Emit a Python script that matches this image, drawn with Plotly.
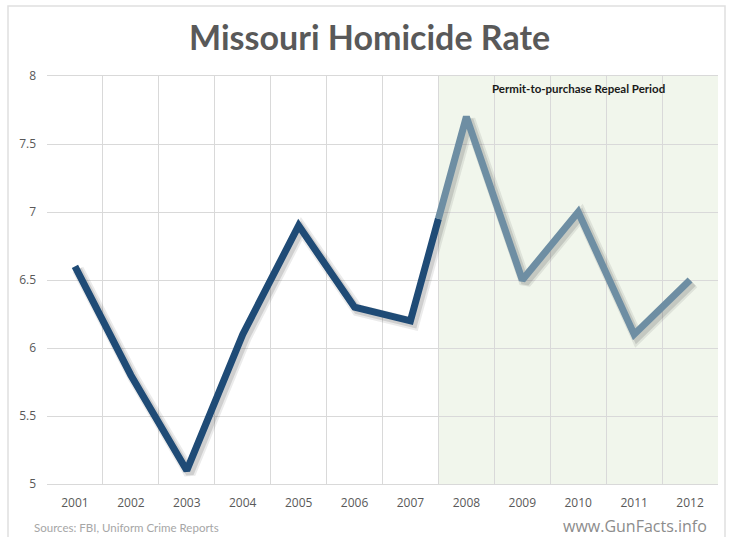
import plotly.graph_objects as go

# Missouri homicide rate per 100,000 residents
years = [2001, 2002, 2003, 2004, 2005, 2006, 2007, 2008, 2009, 2010, 2011, 2012]
rates = [6.6, 5.8, 5.1, 6.1, 6.9, 6.3, 6.2, 7.7, 6.5, 7.0, 6.1, 6.5]
repeal_start_year = 2008
period_label = "Permit-to-purchase Repeal Period"
title_text = "Missouri Homicide Rate"
source_text = "Sources: FBI, Uniform Crime Reports"
site_text = "www.GunFacts.info"

DARK = "#1f4b76"
LIGHT = "#6e8ea3"
GRID = "#d9d9d9"
TICK = "#595959"

W, H = 729, 537
ML, MR, MT, MB = 47, 11, 76, 53
x_range = [years[0] - 0.5, years[-1] + 0.5]
y_range = [5, 8]
px_per_x = (W - ML - MR) / (x_range[1] - x_range[0])
px_per_y = (H - MT - MB) / (y_range[1] - y_range[0])

# split the line where the shaded period begins (halfway between two years)
i_split = years.index(repeal_start_year)
x_mid = (years[i_split - 1] + years[i_split]) / 2
y_mid = (rates[i_split - 1] + rates[i_split]) / 2
before_x = years[:i_split] + [x_mid]
before_y = rates[:i_split] + [y_mid]
after_x = [x_mid] + years[i_split:]
after_y = [y_mid] + rates[i_split:]

fig = go.Figure()

# soft drop shadow: same data on slightly offset hidden axis pairs
shift = 3
fig.add_trace(go.Scatter(x=years, y=rates, mode="lines", xaxis="x2", yaxis="y2",
                         line=dict(color="rgba(60,60,60,0.10)", width=12),
                         hoverinfo="skip", showlegend=False))
fig.add_trace(go.Scatter(x=years, y=rates, mode="lines", xaxis="x2", yaxis="y2",
                         line=dict(color="rgba(60,60,60,0.16)", width=8),
                         hoverinfo="skip", showlegend=False))

fig.add_trace(go.Scatter(x=before_x, y=before_y, mode="lines", xaxis="x3", yaxis="y3",
                         line=dict(color=DARK, width=7), showlegend=False))
fig.add_trace(go.Scatter(x=after_x, y=after_y, mode="lines", xaxis="x3", yaxis="y3",
                         line=dict(color=LIGHT, width=7), showlegend=False))

hidden = dict(visible=False, showgrid=False, zeroline=False, fixedrange=True)

fig.update_layout(
    width=W, height=H,
    margin=dict(l=ML, r=MR, t=MT, b=MB),
    paper_bgcolor="white",
    plot_bgcolor="white",
    showlegend=False,
    title=dict(text="<b>" + title_text + "</b>", x=0.507, xref="container", xanchor="center",
               y=1 - 38 / H, yref="container", yanchor="middle",
               font=dict(family="Lato", size=34, color="#595959")),
    xaxis=dict(range=x_range, tickmode="array", tickvals=years,
               ticktext=[str(y) for y in years], showgrid=False, zeroline=False,
               tickfont=dict(family="Open Sans", size=12, color=TICK),
               ticklabelstandoff=8,
               minor=dict(tickmode="array",
                          tickvals=[y - 0.5 for y in years] + [years[-1] + 0.5],
                          showgrid=True, gridcolor=GRID, gridwidth=1, ticks=""),
               showline=True, linecolor=GRID, linewidth=1, mirror=True),
    yaxis=dict(range=y_range, dtick=0.5, showgrid=True, gridcolor=GRID, gridwidth=1,
               zeroline=False, tickfont=dict(family="Open Sans", size=12, color=TICK),
               ticklabelstandoff=10, showline=False),
    xaxis2=dict(overlaying="x", range=[x_range[0] - shift / px_per_x, x_range[1] - shift / px_per_x], **hidden),
    yaxis2=dict(overlaying="y", range=[y_range[0] + shift / px_per_y, y_range[1] + shift / px_per_y], **hidden),
    xaxis3=dict(overlaying="x", range=x_range, **hidden),
    yaxis3=dict(overlaying="y", range=y_range, **hidden),
)

# shaded repeal period
fig.add_shape(type="rect", xref="x", yref="y", x0=x_mid, x1=x_range[1],
              y0=y_range[0], y1=y_range[1], fillcolor="#f1f6ec",
              line=dict(width=0), layer="below")

# outer frame
fig.add_shape(type="rect", xref="paper", yref="paper",
              x0=(8 - ML) / (W - ML - MR), x1=(725 - ML) / (W - ML - MR),
              y0=-0.2, y1=(H - MB - 6) / (H - MT - MB),
              line=dict(color="#e0e0e0", width=1.5), fillcolor="rgba(0,0,0,0)", layer="below")

fig.add_annotation(text="<b>" + period_label + "</b>", xref="x", yref="y",
                   x=(x_mid + x_range[1]) / 2, y=y_range[1], yshift=-12,
                   showarrow=False, xanchor="center", yanchor="middle",
                   font=dict(family="Lato", size=11.5, color="#1a1a1a"))

fig.add_annotation(text=source_text, xref="paper", yref="paper",
                   x=(32 - ML) / (W - ML - MR), y=-(527 - (H - MB)) / (H - MT - MB),
                   xanchor="left", yanchor="middle", showarrow=False,
                   font=dict(family="Lato", size=11.5, color="#a6a6a6"))

fig.add_annotation(text=site_text, xref="paper", yref="paper",
                   x=(709 - ML) / (W - ML - MR), y=-(526 - (H - MB)) / (H - MT - MB),
                   xanchor="right", yanchor="middle", showarrow=False,
                   font=dict(family="Open Sans", size=16, color="#8c8c8c"))

fig.write_html("out.html")
